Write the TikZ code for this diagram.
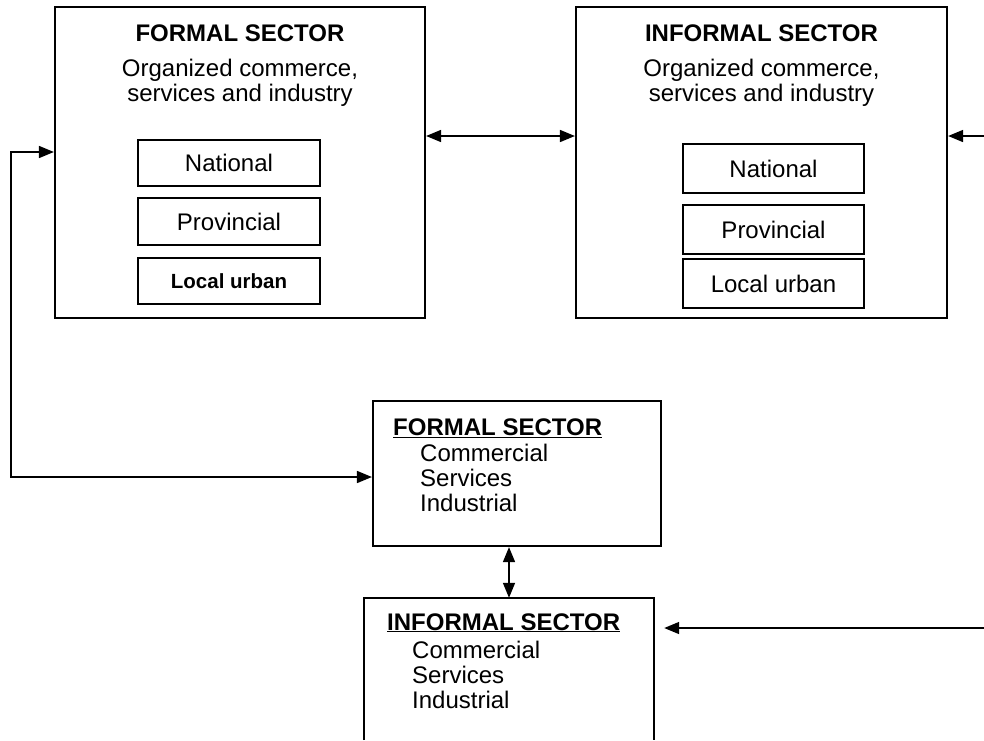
\documentclass[tikz,border=0pt]{standalone}
\usepackage{fontspec}
\setmainfont{Liberation Sans}
\usetikzlibrary{arrows.meta,calc}
\begin{document}
\begin{tikzpicture}[x=1pt,y=-1pt,
  bigbox/.style={draw, line width=2.2pt, inner sep=0pt},
  inbox/.style={draw, line width=1.3pt, inner sep=0pt, minimum width=182pt,
    font=\fontsize{24}{26}\selectfont},
  hdr/.style={inner sep=0pt, font=\fontsize{24}{26}\selectfont\bfseries},
  txt/.style={inner sep=0pt, font=\fontsize{24}{26}\selectfont},
  sub/.style={inner sep=0pt, font=\fontsize{24}{24.5}\selectfont},
  tip/.tip={Triangle[length=15pt,width=12pt]},
  dbl/.style={line width=1.6pt, {tip}-{tip}},
  sgl/.style={line width=1.6pt, -{tip}}]
\useasboundingbox (0,0) rectangle (984,740);
% top boxes
\node[bigbox, minimum width=370pt, minimum height=311pt] (ftop) at (240,162.5) {};
\node[bigbox, minimum width=371pt, minimum height=311pt] (itop) at (761.5,162.5) {};
\node[hdr] (ftopH) at (240,33) {FORMAL SECTOR};
\node[sub, align=center] (ftopT) at (240,83) {Organized commerce,\\services and industry};
\node[hdr] (itopH) at (761.5,33) {INFORMAL SECTOR};
\node[sub, align=center] (itopT) at (761.5,83) {Organized commerce,\\services and industry};
% formal inner boxes
\node[inbox, minimum height=46pt] (fnat) at (229,163) {National};
\node[inbox, minimum height=47pt] (fprov) at (229,221.5) {Provincial};
\node[inbox, minimum height=46pt, font=\fontsize{20.5}{22}\selectfont\bfseries] (floc) at (229,281) {Local urban};
% informal inner boxes
\node[inbox, minimum width=181pt, minimum height=49pt] (inat) at (773.5,168.5) {National};
\node[inbox, minimum width=181pt, minimum height=49pt] (iprov) at (773.5,229.5) {Provincial};
\node[inbox, minimum width=181pt, minimum height=49pt] (iloc) at (773.5,283.5) {Local urban};
% middle formal box
\node[bigbox, minimum width=288pt, minimum height=145pt] (fmid) at (517,473.5) {};
\node[hdr, anchor=base west] (fmidH) at (393,435.5) {\underline{FORMAL SECTOR}};
\node[txt, anchor=base west] (fmid1) at (420,461.5) {Commercial};
\node[txt, anchor=base west] (fmid2) at (420,486.5) {Services};
\node[txt, anchor=base west] (fmid3) at (420,511.5) {Industrial};
% bottom informal box (open at the bottom edge of the picture)
\node[inner sep=0pt, minimum width=290pt, minimum height=142pt] (imid) at (509,669) {};
\draw[line width=2.2pt] (imid.south west) -- (imid.north west) -- (imid.north east) -- (imid.south east);
\node[hdr, anchor=base west] (imidH) at (387,630) {\underline{INFORMAL SECTOR}};
\node[txt, anchor=base west] (imid1) at (412,658) {Commercial};
\node[txt, anchor=base west] (imid2) at (412,683) {Services};
\node[txt, anchor=base west] (imid3) at (412,708) {Industrial};
% connectors
\coordinate (L1) at (11,152);
\coordinate (L2) at (11,477);
\draw[dbl] (ftop.west |- L1) -- (L1) -- (L2) -- (fmid.west |- L2);
\coordinate (T) at (500,136);
\draw[dbl] (ftop.east |- T) -- (itop.west |- T);
\coordinate (R1) at (984,136);
\draw[sgl] (R1) -- (itop.east |- R1);
\draw[dbl] (imid.north) -- (imid.north |- fmid.south);
\coordinate (R2) at (984,628);
\draw[sgl] (R2) -- ($(imid.east |- R2)+(10,0)$);
\end{tikzpicture}
\end{document}
